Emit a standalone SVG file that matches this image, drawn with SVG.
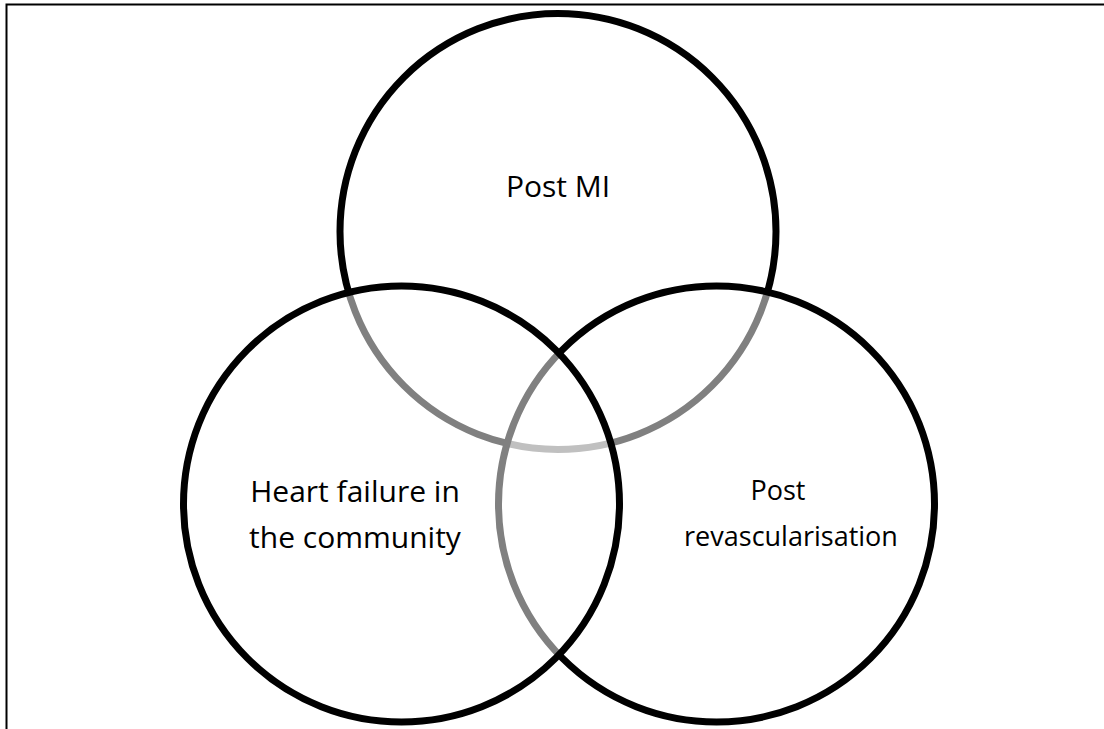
<svg xmlns="http://www.w3.org/2000/svg" width="1104" height="729" viewBox="0 0 1104 729">
  <style>
    .ring { fill: #ffffff; fill-opacity: 0.5; stroke: #000000; stroke-width: 7; }
    .lbl { font-family: "Open Sans", "Noto Sans", "Liberation Sans", sans-serif; font-size: 30px; fill: #000000; text-anchor: middle; }
    .lbl.sm { font-size: 27px; }
    .frame { fill: none; stroke: #000000; stroke-width: 2; }
  </style>
  <rect width="1104" height="729" fill="#ffffff"/>
  <polyline class="frame" points="6.5,729 6.5,4.5 1104,4.5"/>
  <g id="node-post-mi">
    <circle class="ring" cx="558" cy="231.5" r="218"/>
    <text class="lbl" x="558" y="197">Post MI</text>
  </g>
  <g id="node-post-revascularisation">
    <circle class="ring" cx="716.5" cy="504" r="218"/>
    <text class="lbl sm" x="778" y="500">Post</text>
    <text class="lbl sm" x="791" y="546">revascularisation</text>
  </g>
  <g id="node-heart-failure">
    <circle class="ring" cx="401.5" cy="504" r="218"/>
    <text class="lbl" x="355" y="502">Heart failure in</text>
    <text class="lbl" x="355" y="548">the community</text>
  </g>
  <g id="connectors"></g>
</svg>
